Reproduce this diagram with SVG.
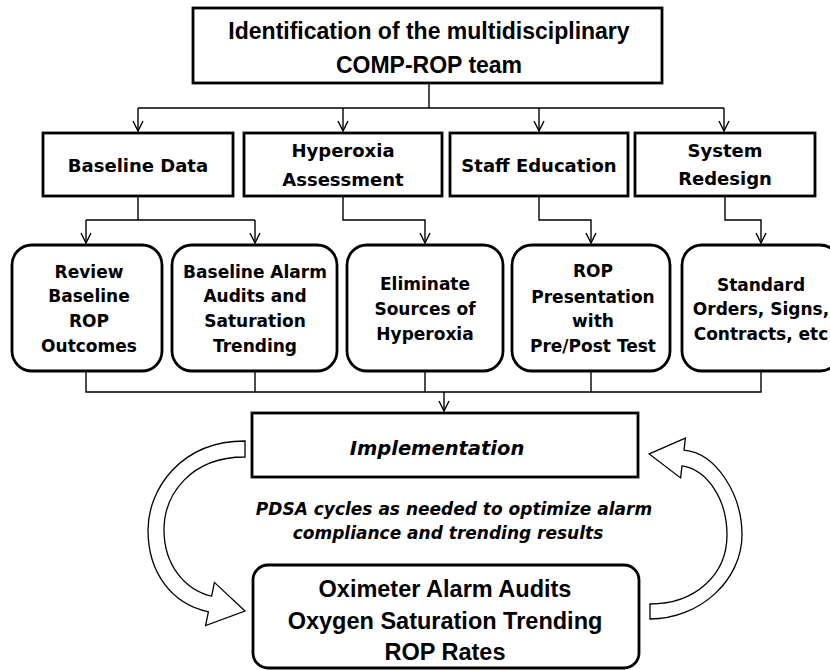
<svg xmlns="http://www.w3.org/2000/svg" width="830" height="670" viewBox="0 0 830 670">
<defs>
<style>
.box{fill:#fff;stroke:#000;stroke-width:2.8}
.conn{fill:none;stroke:#000;stroke-width:1.4}
.arr{marker-end:url(#ah)}
.t1{font-family:"Liberation Sans",Arial,sans-serif;font-weight:bold;font-size:23px;text-anchor:middle;fill:#000}
.t2{font-family:"DejaVu Sans",sans-serif;font-weight:bold;font-size:18px;text-anchor:middle;fill:#000}
.t3{font-family:"DejaVu Sans",sans-serif;font-weight:bold;font-size:17px;text-anchor:middle;fill:#000}
.ti{font-family:"DejaVu Sans",sans-serif;font-weight:bold;font-style:italic;font-size:19.5px;text-anchor:middle;fill:#000}
.tp{font-family:"DejaVu Sans",sans-serif;font-weight:bold;font-style:italic;font-size:17px;text-anchor:middle;fill:#000}
.tb{font-family:"Liberation Sans",Arial,sans-serif;font-weight:bold;font-size:23.5px;text-anchor:middle;fill:#000}
.barrow{fill:#fff;stroke:#000;stroke-width:1.3;stroke-linejoin:miter}
</style>
<marker id="ah" markerUnits="userSpaceOnUse" markerWidth="12" markerHeight="12" viewBox="0 0 12 12" refX="11" refY="6" orient="auto">
<path d="M1,1 L11,6 L1,11" fill="none" stroke="#000" stroke-width="1.4"/>
</marker>
</defs>
<rect width="830" height="670" fill="#fff"/>

<g id="connectors">
<path class="conn" d="M429,83 V108 M138,108 H724"/>
<path class="conn arr" d="M138,108 V131"/>
<path class="conn arr" d="M343,108 V131"/>
<path class="conn arr" d="M539,108 V131"/>
<path class="conn arr" d="M724,108 V131"/>
<path class="conn" d="M138,196 V220 M86,220 H255"/>
<path class="conn arr" d="M86,220 V243"/>
<path class="conn arr" d="M255,220 V243"/>
<path class="conn arr" d="M343,196 V220 H425 V243"/>
<path class="conn arr" d="M539,196 V220 H591 V243"/>
<path class="conn arr" d="M725,196 V220 H761 V243"/>
<path class="conn" d="M86,371 V392 H761 V371 M255,371 V392 M425,371 V392 M591,371 V392"/>
<path class="conn arr" d="M444,392 V411"/>
</g>

<g id="team">
<rect class="box" x="193" y="8" width="469" height="75"/>
<text class="t1" x="429" y="39">Identification of the multidisciplinary</text>
<text class="t1" x="429" y="73">COMP-ROP team</text>
</g>

<g id="baseline-data">
<rect class="box" x="43" y="133" width="190" height="63"/>
<text class="t2" x="138" y="172">Baseline Data</text>
</g>
<g id="hyperoxia-assessment">
<rect class="box" x="244" y="133" width="198" height="63"/>
<text class="t2" x="343" y="157">Hyperoxia</text>
<text class="t2" x="343" y="186">Assessment</text>
</g>
<g id="staff-education">
<rect class="box" x="450" y="133" width="178" height="63"/>
<text class="t2" x="539" y="172">Staff Education</text>
</g>
<g id="system-redesign">
<rect class="box" x="635" y="133" width="180" height="63"/>
<text class="t2" x="725" y="157">System</text>
<text class="t2" x="725" y="185">Redesign</text>
</g>

<g id="review-baseline">
<rect class="box" x="12" y="245" width="150" height="126" rx="20"/>
<text class="t3" x="89" y="278">Review</text>
<text class="t3" x="89" y="302">Baseline</text>
<text class="t3" x="89" y="327">ROP</text>
<text class="t3" x="89" y="352">Outcomes</text>
</g>
<g id="baseline-alarm">
<rect class="box" x="172" y="245" width="165" height="126" rx="20"/>
<text class="t3" x="255" y="278">Baseline Alarm</text>
<text class="t3" x="255" y="302">Audits and</text>
<text class="t3" x="255" y="327">Saturation</text>
<text class="t3" x="255" y="352">Trending</text>
</g>
<g id="eliminate">
<rect class="box" x="347" y="245" width="156" height="126" rx="20"/>
<text class="t3" x="425" y="290">Eliminate</text>
<text class="t3" x="425" y="315">Sources of</text>
<text class="t3" x="425" y="340">Hyperoxia</text>
</g>
<g id="rop-presentation">
<rect class="box" x="512" y="245" width="158" height="126" rx="20"/>
<text class="t3" x="593" y="277">ROP</text>
<text class="t3" x="593" y="303">Presentation</text>
<text class="t3" x="593" y="327">with</text>
<text class="t3" x="593" y="352">Pre/Post Test</text>
</g>
<g id="standard-orders">
<rect class="box" x="682" y="245" width="158" height="126" rx="20"/>
<text class="t3" x="761" y="291">Standard</text>
<text class="t3" x="761" y="315">Orders, Signs,</text>
<text class="t3" x="761" y="340">Contracts, etc</text>
</g>

<g id="implementation">
<rect class="box" x="252" y="413" width="386" height="64"/>
<text class="ti" x="437" y="455">Implementation</text>
</g>

<g id="pdsa-note">
<text class="tp" x="454" y="515">PDSA cycles as needed to optimize alarm</text>
<text class="tp" x="448" y="539">compliance and trending results</text>
</g>

<g id="cycle-arrows">
<path class="barrow" d="M245,441 C180,441 148,490 148,530 C148,573 172,604 208.4,611.8 L205.6,625.6 L245,611 L214.4,582.4 L211.6,596.2 C185,590 164,565 164,530 C164,495 190,457 245,457 Z"/>
<path class="barrow" d="M650,619 C700,619 742,580 742,535 C742,494 716,453 684,450.1 L685.4,438.1 L649.2,453.9 L680.6,477.9 L682,465.9 C708,470 727,500 727,535 C727,575 695,604 650,604 Z"/>
</g>

<g id="results">
<rect class="box" x="253" y="565" width="386" height="103" rx="15"/>
<text class="tb" x="445" y="597">Oximeter Alarm Audits</text>
<text class="tb" x="445" y="629">Oxygen Saturation Trending</text>
<text class="tb" x="445" y="660">ROP Rates</text>
</g>
</svg>
